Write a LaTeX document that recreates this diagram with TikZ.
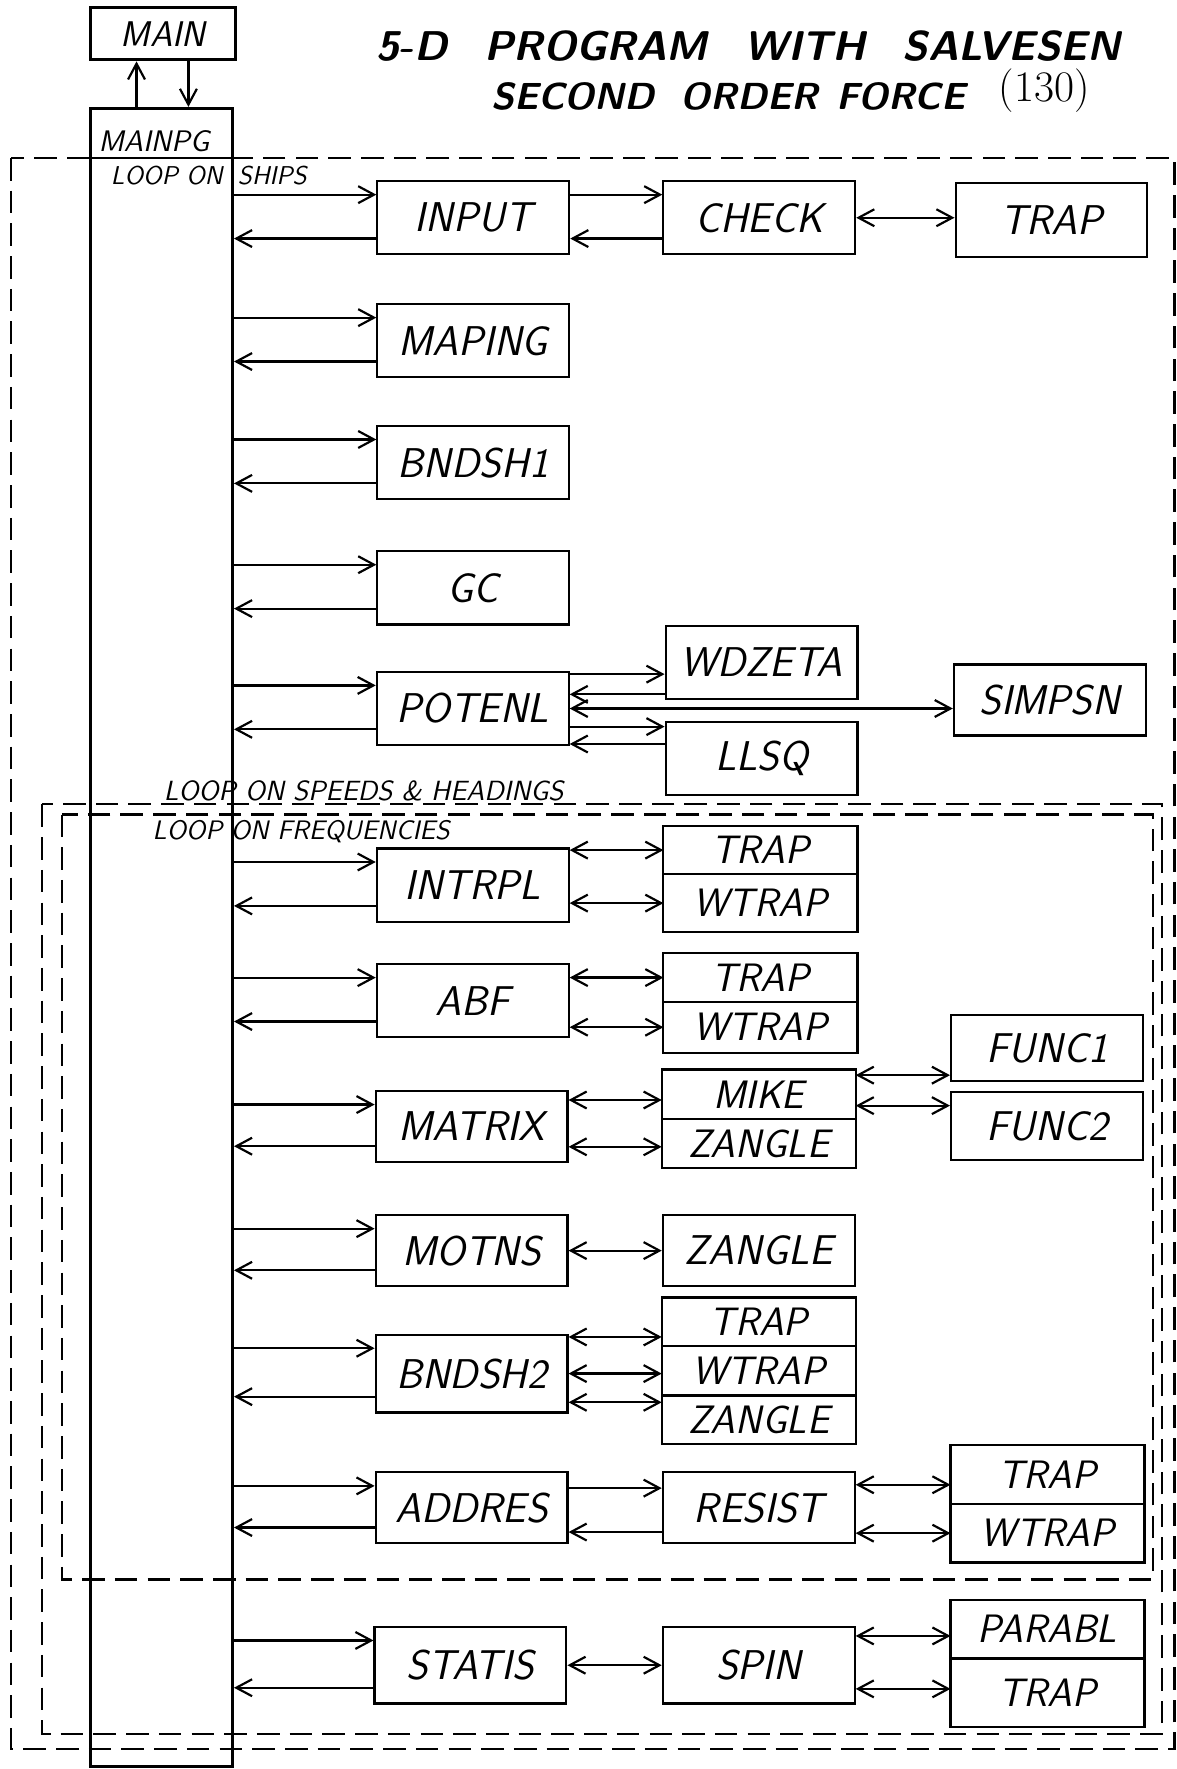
\documentclass[tikz,border=0pt]{standalone}
\usetikzlibrary{arrows.meta,positioning,calc}

\begin{document}
\begin{tikzpicture}[x=0.02cm, y=-0.02cm,
  box/.style={rectangle, draw, line width=1.1pt, minimum width=3.4cm, minimum height=1.3cm, inner sep=0pt,
    font=\fontsize{21}{21}\selectfont\sffamily\itshape},
  part/.style={box, outer sep=0pt, minimum width=3.44cm, font=\fontsize{20}{20}\selectfont\sffamily\itshape},
  arr/.style={-{Straight Barb[length=2.8mm,width=3mm]}, line width=1.1pt},
  dbl/.style={{Straight Barb[length=2.8mm,width=3mm]}-{Straight Barb[length=2.8mm,width=3mm]}, line width=1.1pt},
  loopline/.style={dash pattern=on 0.4cm off 0.18cm, line width=1.1pt},
  note/.style={font=\fontsize{14}{14}\selectfont\sffamily\itshape, inner sep=0pt, anchor=south west},
  headline/.style={font=\fontsize{21}{21}\selectfont\sffamily\bfseries\itshape, inner sep=0pt, anchor=south west}
]
  \useasboundingbox (0,0) rectangle (1043,1568);

  % title
  \node[headline] (title) at (333,55) {5-D\hspace{0.9em}PROGRAM\hspace{0.9em}WITH\hspace{0.9em}SALVESEN};
  \node[headline, font=\fontsize{19}{19}\selectfont\sffamily\bfseries\itshape] (subtitle) at (435,98) {SECOND\hspace{0.7em}ORDER\hspace{0.5em}FORCE};
  \node[note, font=\fontsize{22}{22}\selectfont\rmfamily] (number) at (885,100) {(130)};

  % main program
  \node[box, line width=1.6pt, minimum width=2.58cm, minimum height=0.92cm, font=\fontsize{18}{18}\selectfont\sffamily\itshape] (main) at (144.5,30) {MAIN};
  \node[box, line width=1.6pt, minimum width=2.52cm, minimum height=29.4cm] (mainpg) at (143,831) {};
  \node[note, font=\fontsize{15}{15}\selectfont\sffamily\itshape] (mainpglbl) at (87,135) {MAINPG};

  % loops
  \draw[loopline] (10,140) rectangle (1041,1550);
  \draw[loopline] (37,713) rectangle (1030,1537);
  \draw[loopline] (55,722) rectangle (1022,1400);
  \draw[line width=1.1pt] (mainpg.west |- 0,140) -- (mainpg.east |- 0,140);
  \node[note, font=\fontsize{13}{13}\selectfont\sffamily\itshape] (shipslbl) at (98,164) {LOOP ON\hspace{0.6em}SHIPS};
  \node[note] (speedslbl) at (145,710) {LOOP ON SPEEDS \& HEADINGS};
  \node[note, font=\fontsize{13.5}{13.5}\selectfont\sffamily\itshape] (freqlbl) at (135,747) {LOOP ON FREQUENCIES};

  % subroutines
  \node[box] (input) at (419.5,193) {INPUT};
  \node[box] (check) at (673,193) {CHECK};
  \node[box] (trapa) at (932,195) {TRAP};
  \node[box] (maping) at (419.5,302) {MAPING};
  \node[box] (bndsha) at (419.5,410) {BNDSH1};
  \node[box] (gc) at (419.5,521) {GC};
  \node[box] (potenl) at (419,628) {POTENL};
  \node[box] (wdzeta) at (675,587) {WDZETA};
  \node[box, minimum height=1.26cm] (simpsn) at (930.5,620.5) {SIMPSN};
  \node[box] (llsq) at (675,672.5) {LLSQ};

  \node[box] (intrpl) at (419,784.5) {INTRPL};
  \node[part, minimum height=0.86cm] (trapb) at (674,753.5) {TRAP};
  \node[part, minimum height=1.02cm, below=0pt of trapb] (wtrapb) {WTRAP};

  \node[box] (abf) at (419,887) {ABF};
  \node[part, minimum height=0.86cm] (trapc) at (674,866.5) {TRAP};
  \node[part, minimum height=0.9cm, below=0pt of trapc] (wtrapc) {WTRAP};

  \node[box, minimum height=1.26cm] (matrix) at (418,998.5) {MATRIX};
  \node[part, minimum height=0.88cm] (mike) at (672.5,970) {MIKE};
  \node[part, minimum height=0.86cm, below=0pt of mike] (zanglea) {ZANGLE};
  \node[box, minimum height=1.16cm] (funca) at (928,929) {FUNC1};
  \node[box, minimum height=1.2cm] (funcb) at (928,998) {FUNC2};

  \node[box, minimum height=1.26cm] (motns) at (418,1108.5) {MOTNS};
  \node[box, minimum height=1.26cm] (zangleb) at (672.5,1108.5) {ZANGLE};

  \node[box, minimum height=1.38cm] (bndshb) at (418,1217.5) {BNDSH2};
  \node[part, minimum height=0.86cm] (trapd) at (672.5,1171.5) {TRAP};
  \node[part, minimum height=0.88cm, below=0pt of trapd] (wtrapd) {WTRAP};
  \node[part, minimum height=0.86cm, below=0pt of wtrapd] (zanglec) {ZANGLE};

  \node[box, minimum height=1.26cm] (addres) at (418,1336.5) {ADDRES};
  \node[box, minimum height=1.26cm] (resist) at (672.5,1336.5) {RESIST};
  \node[part, minimum height=1.04cm] (trape) at (928.5,1307) {TRAP};
  \node[part, minimum height=1.04cm, below=0pt of trape] (wtrape) {WTRAP};

  \node[box, minimum height=1.36cm] (statis) at (417,1476) {STATIS};
  \node[box, minimum height=1.36cm] (spin) at (672.5,1476) {SPIN};
  \node[part, minimum height=1.04cm] (parabl) at (928.5,1444) {PARABL};
  \node[part, minimum height=1.22cm, below=0pt of parabl] (trapf) {TRAP};

  % calls from MAIN and MAINPG
  \coordinate (up) at ($(mainpg.north)+(-22,0)$);
  \coordinate (dn) at ($(mainpg.north)+(24,0)$);
  \draw[arr] (up) -- (up |- main.south);
  \draw[arr] (dn |- main.south) -- (dn);
  \foreach \n in {input,maping,bndsha,gc,potenl,intrpl,abf,matrix,motns,bndshb,addres,statis} {
    \draw[arr] ($(mainpg.east |- \n.north)+(0,13)$) -- ($(\n.north west)+(0,13)$);
    \draw[arr] ($(\n.south west)+(0,-15)$) -- ($(mainpg.east |- \n.south)+(0,-15)$);
  }

  % calls between subroutines
  \draw[arr] ($(input.north east)+(0,13)$) -- ($(check.north west)+(0,13)$);
  \draw[arr] ($(check.south west)+(0,-15)$) -- ($(input.south east)+(0,-15)$);
  \draw[dbl] (check.east) -- (check.east -| trapa.west);

  \draw[arr] ($(potenl.north east)+(0,3)$) -- ($(potenl.north east -| wdzeta.west)+(0,3)$);
  \draw[arr] ($(wdzeta.south west)+(0,-5)$) -- ($(wdzeta.south west -| potenl.east)+(0,-5)$);
  \draw[dbl] (potenl.east) -- (potenl.east -| simpsn.west);
  \draw[arr] ($(llsq.north west -| potenl.east)+(0,5)$) -- ($(llsq.north west)+(0,5)$);
  \draw[arr] ($(potenl.south east -| llsq.west)+(0,-2)$) -- ($(potenl.south east)+(0,-2)$);

  \draw[dbl] (intrpl.east |- trapb.west) -- (trapb.west);
  \draw[dbl] (intrpl.east |- wtrapb.west) -- (wtrapb.west);
  \draw[dbl] (abf.east |- trapc.west) -- (trapc.west);
  \draw[dbl] (abf.east |- wtrapc.west) -- (wtrapc.west);

  \draw[dbl] ($(matrix.east |- mike.west)+(0,5)$) -- ($(mike.west)+(0,5)$);
  \draw[dbl] ($(matrix.east |- zanglea.west)+(0,3)$) -- ($(zanglea.west)+(0,3)$);
  \draw[dbl] ($(mike.north east)+(0,5)$) -- ($(mike.north east -| funca.west)+(0,5)$);
  \draw[dbl] ($(mike.east)+(0,10)$) -- ($(mike.east -| funcb.west)+(0,10)$);

  \draw[dbl] (motns.east) -- (zangleb.west);

  \draw[dbl] ($(bndshb.north east)+(0,3)$) -- ($(bndshb.north east -| trapd.west)+(0,3)$);
  \draw[dbl] (bndshb.east) -- (bndshb.east -| wtrapd.west);
  \draw[dbl] ($(bndshb.south east)+(0,-10)$) -- ($(bndshb.south east -| zanglec.west)+(0,-10)$);

  \draw[arr] ($(addres.north east)+(0,15)$) -- ($(resist.north west)+(0,15)$);
  \draw[arr] ($(resist.south west)+(0,-11)$) -- ($(addres.south east)+(0,-11)$);
  \draw[dbl] ($(resist.north east)+(0,12)$) -- ($(resist.north east -| trape.west)+(0,12)$);
  \draw[dbl] ($(resist.south east)+(0,-10)$) -- ($(resist.south east -| wtrape.west)+(0,-10)$);

  \draw[dbl] (statis.east) -- (spin.west);
  \draw[dbl] ($(spin.north east)+(0,9)$) -- ($(spin.north east -| parabl.west)+(0,9)$);
  \draw[dbl] ($(spin.south east)+(0,-14)$) -- ($(spin.south east -| trapf.west)+(0,-14)$);
\end{tikzpicture}
\end{document}
